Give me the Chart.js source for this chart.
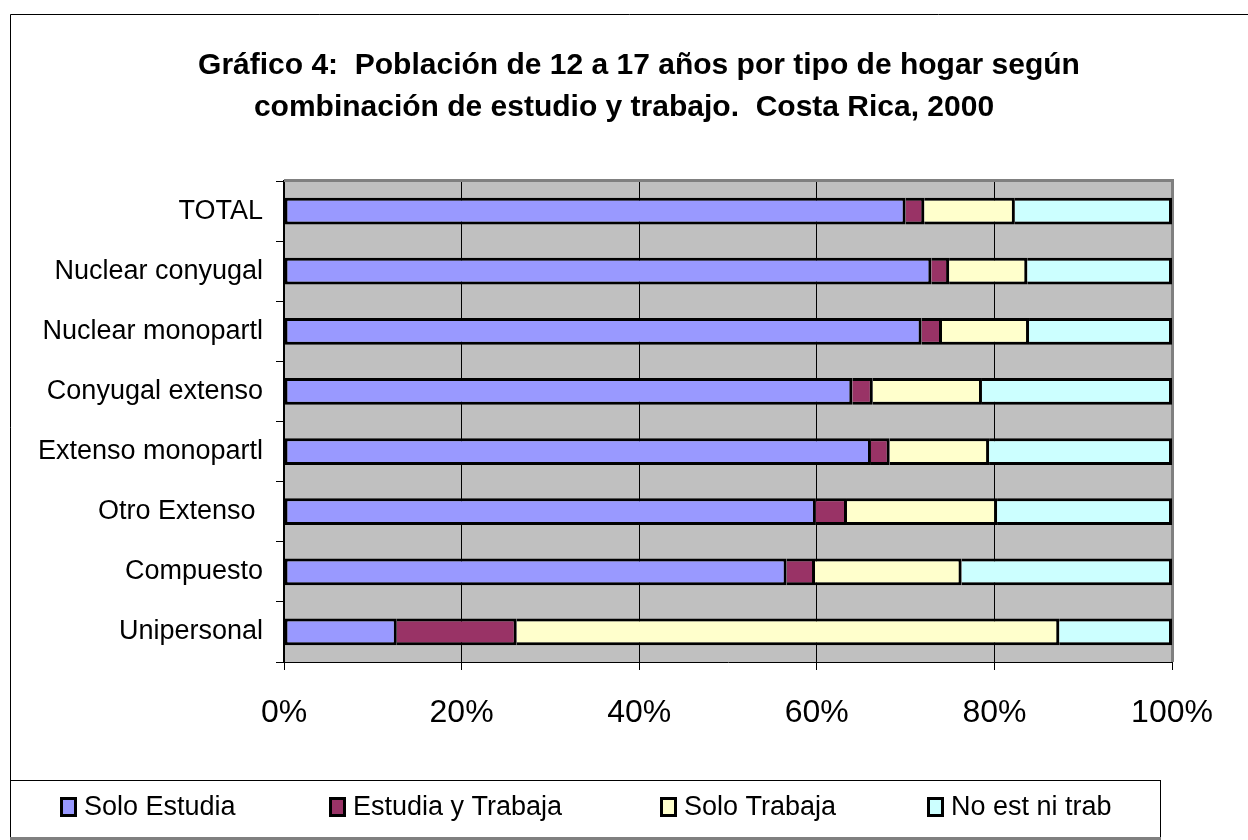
<!DOCTYPE html>
<html>
<head>
<meta charset="utf-8">
<script src="https://cdn.jsdelivr.net/npm/chart.js@4"></script>
<style>
  body { margin: 0; background: #fff; }
  #wrap { width: 1248px; height: 840px; }
</style>
</head>
<body>
<div id="wrap"><canvas id="myBarChart" width="1248" height="840"></canvas></div>
<script>
// Datos (porcentajes)
const categorias = ['TOTAL', 'Nuclear conyugal', 'Nuclear monopartl', 'Conyugal extenso',
                    'Extenso monopartl', 'Otro Extenso ', 'Compuesto', 'Unipersonal'];
const soloEstudia     = [70.0, 72.9, 71.8, 64.0, 66.1, 59.9, 56.6, 12.7];
const estudiaTrabaja  = [ 2.1,  2.0,  2.3,  2.3,  2.1,  3.5,  3.2, 13.5];
const soloTrabaja     = [10.2,  8.8,  9.8, 12.3, 11.2, 16.9, 16.5, 61.1];
const noEstNiTrab     = [17.7, 16.3, 16.1, 21.4, 20.6, 19.7, 23.7, 12.7];
const series = ['Solo Estudia', 'Estudia y Trabaja', 'Solo Trabaja', 'No est ni trab'];
const colores = ['#9999FF', '#993366', '#FFFFCC', '#CCFFFF'];
const tituloLineas = ['Gráfico 4:  Población de 12 a 17 años por tipo de hogar según',
                      'combinación de estudio y trabajo.  Costa Rica, 2000'];

const FONT = '"Liberation Sans", Arial, sans-serif';

const valores = [soloEstudia, estudiaTrabaja, soloTrabaja, noEstNiTrab];
const datasets = series.map(function(nombre, i) {
    return {
        label: nombre,
        data: valores[i],
        backgroundColor: colores[i],
        borderColor: '#000',
        borderWidth: 3,
        borderSkipped: i === 0 ? false : 'start',
        barPercentage: 0.445,
        categoryPercentage: 1.0
    };
});

// fondo gris, marco, titulo y leyenda
const decoracion = {
    id: 'decoracion',
    beforeDraw: function(chart) {
        const c = chart.ctx, a = chart.chartArea;
        c.save();
        c.fillStyle = '#fff';
        c.fillRect(0, 0, chart.width, chart.height);
        c.fillStyle = '#C0C0C0';
        c.fillRect(a.left, a.top, a.right - a.left, a.bottom - a.top);
        c.restore();
    },
    beforeDatasetsDraw: function(chart) {
        const c = chart.ctx, a = chart.chartArea;
        c.save();
        c.strokeStyle = '#808080';
        c.lineWidth = 3;
        c.beginPath();
        c.moveTo(a.left, a.top - 0.5);
        c.lineTo(a.right + 0.5, a.top - 0.5);
        c.lineTo(a.right + 0.5, a.bottom);
        c.stroke();
        c.restore();
    },
    afterDraw: function(chart) {
        const c = chart.ctx;
        c.save();
        // marco exterior
        c.strokeStyle = '#000';
        c.lineWidth = 1;
        c.beginPath();
        c.moveTo(10.5, 840);
        c.lineTo(10.5, 14.5);
        c.lineTo(1248, 14.5);
        c.stroke();

        // titulo
        c.fillStyle = '#000';
        c.font = 'bold 30px ' + FONT;
        c.textAlign = 'center';
        c.textBaseline = 'alphabetic';
        c.fillText(tituloLineas[0], 639, 74);
        c.fillText(tituloLineas[1], 624, 116);

        // caja de leyenda
        c.strokeStyle = '#000';
        c.lineWidth = 1;
        c.strokeRect(10.5, 780.5, 1150, 58);
        c.strokeStyle = '#808080';
        c.lineWidth = 3;
        c.beginPath();
        c.moveTo(10, 838.5);
        c.lineTo(1161, 838.5);
        c.stroke();

        const leyendaX = [60, 329, 660, 927];
        c.font = '27px ' + FONT;
        c.textAlign = 'left';
        c.textBaseline = 'middle';
        chart.data.datasets.forEach(function(ds, i) {
            const x = leyendaX[i], y = 807;
            c.fillStyle = ds.backgroundColor;
            c.fillRect(x, y - 10, 17, 20);
            c.strokeStyle = '#000';
            c.lineWidth = 3;
            c.strokeRect(x + 1.5, y - 8.5, 14, 17);
            c.fillStyle = '#000';
            c.fillText(ds.label, x + 24, y + 1);
        });
        c.restore();
    }
};

const ctx = document.getElementById('myBarChart').getContext('2d');
const myBarChart = new Chart(ctx, {
    type: 'bar',
    data: { labels: categorias, datasets: datasets },
    options: {
        indexAxis: 'y',
        responsive: false,
        animation: false,
        layout: { padding: { left: 20, right: 76, top: 181, bottom: 78 } },
        plugins: {
            legend: { display: false },
            title: { display: false },
            tooltip: { enabled: false }
        },
        scales: {
            x: {
                stacked: true,
                min: 0,
                max: 100,
                ticks: {
                    stepSize: 20,
                    maxRotation: 0,
                    color: '#000',
                    padding: 24,
                    font: { size: 32, family: FONT }
                    ,
                    callback: function(v) { return v + '%'; }
                },
                grid: {
                    color: function(c) { return c.index === 5 ? 'rgba(0,0,0,0)' : '#000'; },
                    lineWidth: 1,
                    tickLength: 8,
                    tickColor: '#000'
                },
                border: { display: true, color: '#000', width: 1 },
                afterFit: function(scale) { scale.height = 100; }
            },
            y: {
                stacked: true,
                ticks: {
                    color: '#000',
                    padding: 13,
                    font: { size: 27, family: FONT }
                },
                grid: {
                    drawOnChartArea: false,
                    tickLength: 8,
                    tickColor: '#000'
                },
                border: { display: true, color: '#000', width: 2 },
                afterFit: function(scale) { scale.width = 264; }
            }
        }
    },
    plugins: [decoracion]
});
</script>
</body>
</html>
